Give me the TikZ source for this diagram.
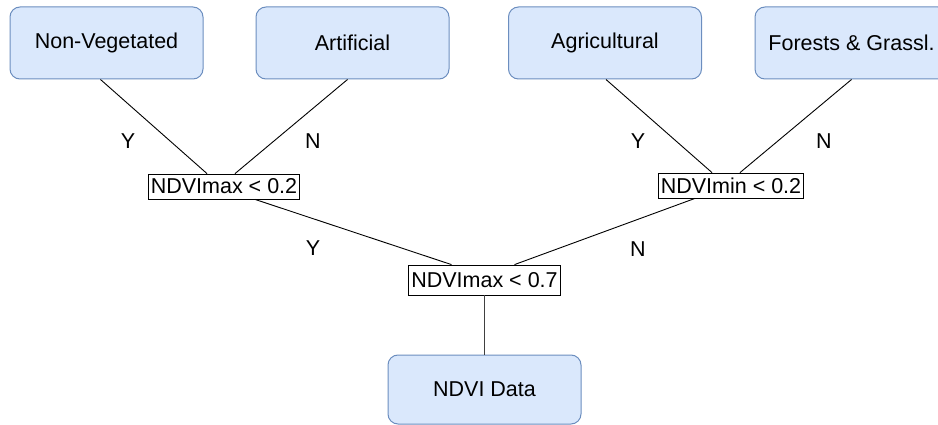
\documentclass[tikz,border=0pt]{standalone}
\usepackage{fontspec}
\setmainfont{Liberation Sans}
\usepackage{xcolor}
\usepackage{tikz}

\definecolor{leafblue}{HTML}{DAE8FC}
\definecolor{leafline}{HTML}{6C8EBF}

\tikzset{
  leaf/.style={draw=leafline, fill=leafblue, rounded corners=10pt, line width=1pt,
    minimum width=193pt, minimum height=72pt, inner sep=0pt},
  test/.style={draw=black, fill=white, line width=0.8pt, inner xsep=2.5pt, inner ysep=0pt,
    minimum height=25pt},
  answer/.style={inner sep=0pt},
  branch/.style={draw=black, line width=0.9pt}
}

\begin{document}
\begin{tikzpicture}[x=1pt, y=-1pt, font=\fontsize{21.5}{25}\selectfont]
    \useasboundingbox (0,0) rectangle (938,425);

    % Classes
    \node[leaf] (nonveg) at (106.5, 43) {Non-Vegetated};
    \node[leaf] (artif) at (352.5, 43) {Artificial};
    \node[leaf] (agri) at (605, 43) {Agricultural};
    \node[leaf] (forest) at (851.5, 43) {Forests \& Grassl.};

    % Input
    \node[leaf, minimum height=69pt] (data) at (484.5, 389.5) {NDVI Data};

    % Tests
    \node[test] (maxlow) at (224, 186.5) {NDVImax < 0.2};
    \node[test] (minlow) at (731, 185.5) {NDVImin < 0.2};
    \node[test, minimum height=30pt] (maxhigh) at (484.5, 280) {NDVImax < 0.7};

    % Branches
    \draw[branch] ([xshift=-6pt]nonveg.south) -- ([xshift=-17pt]maxlow.north);
    \draw[branch] ([xshift=-5pt]artif.south) -- ([xshift=11pt]maxlow.north);
    \draw[branch] ([xshift=1pt]agri.south) -- ([xshift=-19pt]minlow.north);
    \draw[branch] (forest.south) -- ([xshift=9pt]minlow.north);
    \draw[branch] ([xshift=31pt]maxlow.south) -- ([xshift=-33pt]maxhigh.north);
    \draw[branch] ([xshift=-36pt]minlow.south) -- ([xshift=30pt]maxhigh.north);
    \draw[branch, draw=black!75] (maxhigh) -- (data);

    % Answers
    \node[answer] (y1) at (128, 141) {Y};
    \node[answer] (n1) at (313, 141) {N};
    \node[answer] (y2) at (638, 141) {Y};
    \node[answer] (n2) at (824, 141) {N};
    \node[answer] (y3) at (313, 248) {Y};
    \node[answer] (n3) at (638, 249) {N};
\end{tikzpicture}
\end{document}
